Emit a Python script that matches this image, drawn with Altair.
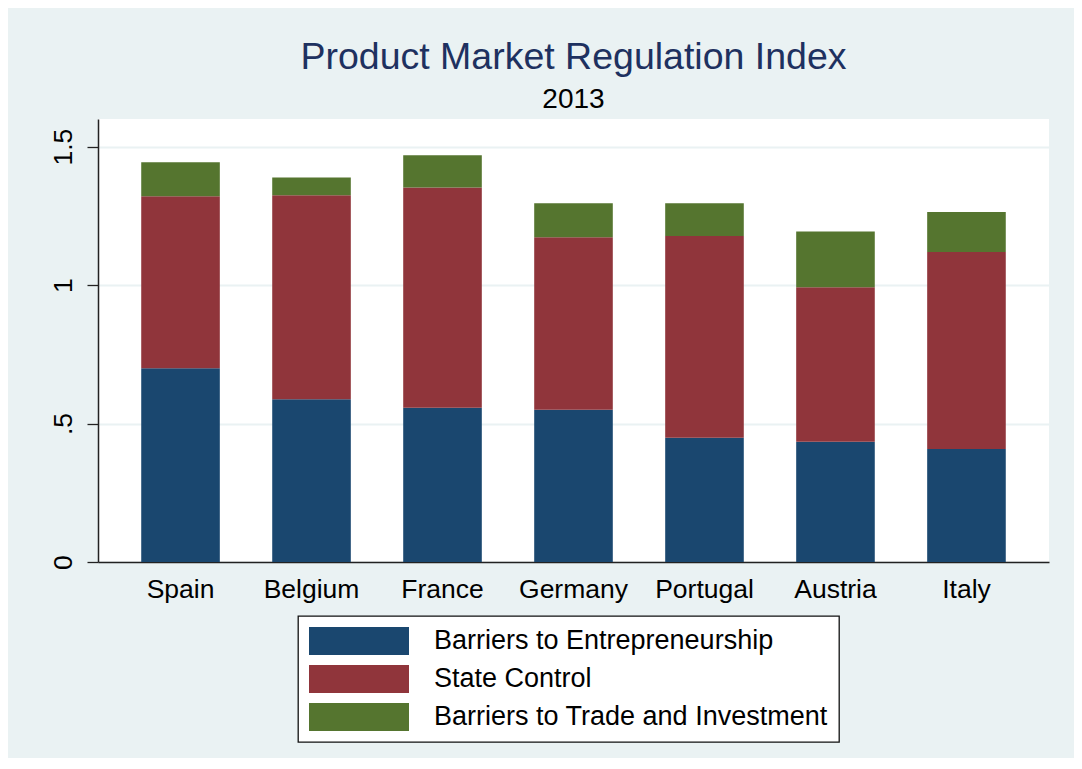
import altair as alt
import pandas as pd

countries = ["Spain", "Belgium", "France", "Germany", "Portugal", "Austria", "Italy"]
components = ["Barriers to Entrepreneurship", "State Control", "Barriers to Trade and Investment"]
entrepreneurship = [0.700, 0.588, 0.557, 0.550, 0.449, 0.434, 0.408]
state_control = [0.621, 0.737, 0.796, 0.623, 0.728, 0.558, 0.712]
trade_investment = [0.123, 0.064, 0.116, 0.123, 0.119, 0.202, 0.144]
colors = ["#1A476F", "#90353B", "#55752F"]
y_ticks = [0, 0.5, 1, 1.5]

series = [entrepreneurship, state_control, trade_investment]
rows = []
for i, c in enumerate(countries):
    for j, comp in enumerate(components):
        rows.append({"country": c, "component": comp, "value": series[j][i], "order": j})
df = pd.DataFrame(rows)

FONT = "Liberation Sans"
BG = "#EAF2F3"

chart = alt.Chart(df).mark_bar().encode(
    x=alt.X(
        "country:N",
        sort=countries,
        scale=alt.Scale(paddingInner=0.4, paddingOuter=0.33),
        axis=alt.Axis(
            title=None,
            labelAngle=0,
            ticks=False,
            tickSize=0,
            labelPadding=14,
            labelFontSize=26.5,
            labelColor="black",
            labelFont=FONT,
            domainColor="#222222",
            domainWidth=1.5,
            grid=False,
        ),
    ),
    y=alt.Y(
        "value:Q",
        stack="zero",
        scale=alt.Scale(domain=[0, 1.6], nice=False),
        axis=alt.Axis(
            title=None,
            values=y_ticks,
            labelExpr="datum.value == 0.5 ? '.5' : format(datum.value, '~g')",
            labelAngle=270,
            labelAlign="center",
            labelBaseline="bottom",
            labelPadding=10,
            labelFontSize=26.5,
            labelColor="black",
            labelFont=FONT,
            tickSize=11,
            tickColor="#222222",
            tickWidth=1.3,
            domainColor="#222222",
            domainWidth=1.5,
            grid=True,
            gridColor=BG,
            gridWidth=2,
        ),
    ),
    color=alt.Color(
        "component:N",
        sort=components,
        scale=alt.Scale(domain=components, range=colors),
        title=None,
        legend=alt.Legend(
            orient="none",
            legendX=200,
            legendY=497,
            direction="vertical",
            fillColor="white",
            strokeColor="#111111",
            padding=11,
            rowPadding=10,
            symbolType="M-1,-0.28L1,-0.28L1,0.28L-1,0.28Z",
            symbolSize=10000,
            symbolStrokeWidth=0,
            symbolOpacity=1,
            clipHeight=28,
            labelFontSize=27,
            labelFont=FONT,
            labelColor="black",
            labelOffset=25,
            labelLimit=700,
        ),
    ),
    order=alt.Order("order:Q", sort="ascending"),
).properties(
    width=951,
    height=443,
    autosize=alt.AutoSizeParams(type="none"),
    padding={"left": 90, "top": 111, "right": 25, "bottom": 196},
    background=BG,
    title=alt.TitleParams(
        text="Product Market Regulation Index",
        subtitle="2013",
        fontSize=37.5,
        subtitleFontSize=28,
        font=FONT,
        subtitleFont=FONT,
        fontWeight="normal",
        color="#1E3160",
        subtitleColor="black",
        anchor="middle",
        offset=5,
        subtitlePadding=10,
    ),
).configure_view(
    fill="white",
    strokeWidth=0,
).configure_legend(
    strokeWidth=1.3,
)

chart.save("out.html", embed_options={"renderer": "svg", "actions": False})
